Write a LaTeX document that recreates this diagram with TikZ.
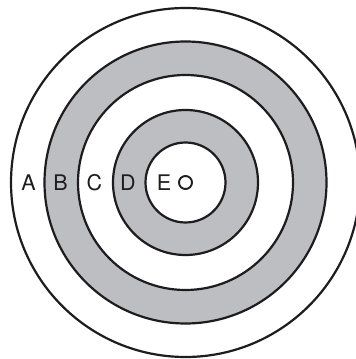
\documentclass[tikz,border=0pt]{standalone}
\usepackage{fontspec}
\setmainfont{TeX Gyre Heros}
\definecolor{ringgray}{RGB}{189,190,194}
\definecolor{ink}{RGB}{30,28,30}
\begin{document}
\begin{tikzpicture}[x=1pt,y=1pt,
  ring/.style={draw=ink,line width=2.2pt},
  lbl/.style={font=\fontsize{21.5}{25}\selectfont,text=ink,inner sep=0pt,anchor=center}]
\useasboundingbox (0,0) rectangle (356,359);
\coordinate (c) at (185.5,176.5);
\begin{scope}
\clip (0,0) rectangle (356,359);
\fill[white] (c) circle (174.5);
\fill[ringgray] (c) circle (141);
\fill[white] (c) circle (107.5);
\fill[ringgray] (c) circle (72.5);
\fill[white] (c) circle (40);
\draw[ring] (c) circle (174.5);
\draw[ring] (c) circle (141);
\draw[ring] (c) circle (107.5);
\draw[ring] (c) circle (72.5);
\draw[ring] (c) circle (40);
\draw[ring,line width=1.9pt] (c) circle (6.5);
\end{scope}
\node[lbl] (A) at (28.5,176) {A};
\node[lbl] (B) at (60.5,176) {B};
\node[lbl] (C) at (94.5,176) {C};
\node[lbl] (D) at (128,176) {D};
\node[lbl] (E) at (164,176) {E};
\end{tikzpicture}
\end{document}
